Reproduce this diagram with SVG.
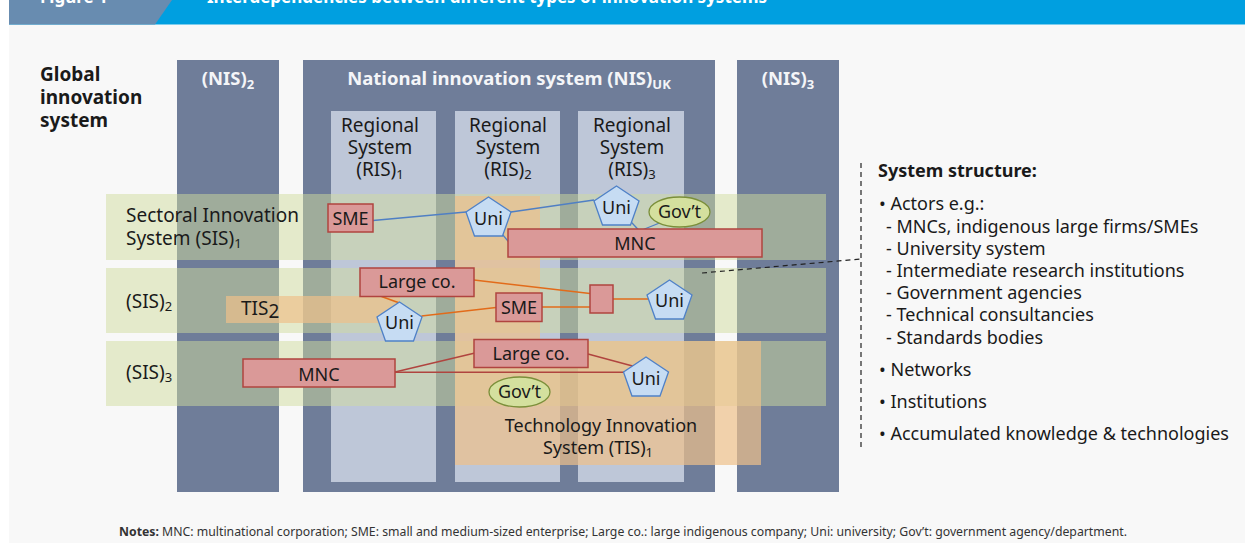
<svg xmlns="http://www.w3.org/2000/svg" width="1245" height="543" viewBox="0 0 1245 543">
  <style>
    text { font-family: "Noto Sans", "Open Sans", "Liberation Sans", sans-serif; }
    .hdr { fill: #ffffff; font-weight: bold; font-size: 17px; }
    .colhead { fill: #f4f5f8; font-weight: bold; font-size: 18.5px; text-anchor: middle; }
    .lbl { fill: #1a1a1a; font-size: 18px; }
    .big { font-size: 19px; }
    .mid { text-anchor: middle; }
    .bold { font-weight: bold; }
    .nis { fill: #6f7d99; }
    .ris { fill: #bec7d8; }
    .sis { fill: rgb(207,219,158); fill-opacity: 0.5; }
    .tis { fill: rgb(238,192,138); fill-opacity: 0.7; }
    .box { fill: #da9998; stroke: #b0443f; stroke-width: 1.5; }
    .uni { fill: #c6dcf3; stroke: #4f81c7; stroke-width: 1.3; }
    .gov { fill: #d4e09e; stroke: #7b8f3a; stroke-width: 1.3; }
    .lb { stroke: #4f7fc4; stroke-width: 1.3; fill: none; }
    .lo { stroke: #e26b1a; stroke-width: 1.5; fill: none; }
    .lr { stroke: #b0443f; stroke-width: 1.5; fill: none; }
    .dash { stroke: #222; stroke-width: 1.2; fill: none; stroke-dasharray: 5 4; }
  </style>

  <!-- page background and title banner -->
  <rect x="0" y="0" width="1245" height="543" fill="#ffffff"/>
  <rect x="9" y="24.5" width="1236" height="518.5" fill="#f8f8f8"/>
  <rect x="9" y="0" width="1236" height="24.5" fill="#009fe0"/>
  <polygon points="9,0 172,0 155,24.5 9,24.5" fill="#688cb0"/>
  <text class="hdr" x="40" y="3">Figure 1</text>
  <text class="hdr" x="207" y="3">Interdependencies between different types of innovation systems</text>

  <!-- global label -->
  <g id="global-label">
    <text class="lbl bold big" x="40" y="81">Global</text>
    <text class="lbl bold big" x="40" y="104">innovation</text>
    <text class="lbl bold big" x="40" y="127">system</text>
  </g>

  <!-- national systems -->
  <g id="nis2">
    <rect class="nis" x="177" y="60" width="102" height="432"/>
    <text class="colhead" x="228" y="85">(NIS)<tspan font-size="13" dy="4">2</tspan></text>
  </g>
  <g id="nis-uk">
    <rect class="nis" x="303" y="60" width="412" height="432"/>
    <text class="colhead" x="509" y="85">National innovation system (NIS)<tspan font-size="13" dy="4">UK</tspan></text>
  </g>
  <g id="nis3">
    <rect class="nis" x="737" y="60" width="102" height="432"/>
    <text class="colhead" x="788" y="85">(NIS)<tspan font-size="13" dy="4">3</tspan></text>
  </g>

  <!-- regional systems -->
  <g id="ris1">
    <rect class="ris" x="331" y="111" width="105" height="371"/>
    <text class="lbl big mid" x="380" y="132">Regional</text>
    <text class="lbl big mid" x="380" y="154">System</text>
    <text class="lbl big mid" x="380" y="176">(RIS)<tspan font-size="13" dy="3">1</tspan></text>
  </g>
  <g id="ris2">
    <rect class="ris" x="455" y="111" width="105" height="371"/>
    <text class="lbl big mid" x="508" y="132">Regional</text>
    <text class="lbl big mid" x="508" y="154">System</text>
    <text class="lbl big mid" x="508" y="176">(RIS)<tspan font-size="13" dy="3">2</tspan></text>
  </g>
  <g id="ris3">
    <rect class="ris" x="578" y="111" width="106" height="371"/>
    <text class="lbl big mid" x="632" y="132">Regional</text>
    <text class="lbl big mid" x="632" y="154">System</text>
    <text class="lbl big mid" x="632" y="176">(RIS)<tspan font-size="13" dy="3">3</tspan></text>
  </g>

  <!-- sectoral systems (translucent bands) -->
  <g id="sis1">
    <rect class="sis" x="106" y="194" width="720" height="66"/>
  </g>
  <g id="sis2">
    <rect class="sis" x="106" y="268" width="720" height="65"/>
  </g>
  <g id="sis3">
    <rect class="sis" x="106" y="341" width="720" height="65"/>
  </g>

  <!-- technology systems -->
  <g id="tis1">
    <path class="tis" d="M455,196 H540 V341 H761 V465 H455 Z"/>
  </g>
  <g id="tis2">
    <rect class="tis" x="226" y="296" width="174" height="27"/>
    <text class="lbl big" x="241" y="315">TIS<tspan dy="3">2</tspan></text>
  </g>

  <!-- links between actors -->
  <g id="connectors">
    <line class="lb" x1="373" y1="220.5" x2="466" y2="212"/>
    <line class="lb" x1="511" y1="212" x2="594" y2="200"/>
    <line class="lb" x1="492" y1="222" x2="512" y2="246"/>
    <line class="lb" x1="620" y1="210" x2="639.5" y2="231"/>
    <line class="lb" x1="672" y1="218" x2="639.5" y2="231"/>

    <line class="lo" x1="474" y1="280" x2="590" y2="293.5"/>
    <line class="lo" x1="542" y1="307" x2="590" y2="307"/>
    <line class="lo" x1="613" y1="299" x2="648" y2="299"/>
    <line class="lo" x1="421.5" y1="316" x2="496" y2="307.5"/>
    <line class="lo" x1="381.5" y1="296.5" x2="399.5" y2="303"/>

    <line class="lr" x1="395" y1="372" x2="475" y2="353"/>
    <line class="lr" x1="395" y1="372.3" x2="624" y2="372.3"/>
    <line class="lr" x1="588" y1="354" x2="640" y2="368"/>

    <line class="dash" x1="702" y1="273" x2="861" y2="259"/>
  </g>

  <!-- actors in SIS 1 -->
  <g id="sme-1">
    <rect class="box" x="328" y="204" width="45" height="28"/>
    <text class="lbl mid" x="350.5" y="224.5">SME</text>
  </g>
  <g id="mnc-1">
    <rect class="box" x="508" y="229" width="254" height="28"/>
    <text class="lbl mid" x="635" y="249.5">MNC</text>
  </g>
  <g id="uni-1">
    <polygon class="uni" transform="translate(488.5,197)" points="0,0 22.5,15 14,39 -14,39 -22.5,15"/>
    <text class="lbl mid" x="488.5" y="225">Uni</text>
  </g>
  <g id="uni-2">
    <polygon class="uni" transform="translate(616.5,186)" points="0,0 22.5,15 14,39 -14,39 -22.5,15"/>
    <text class="lbl mid" x="616.5" y="213.5">Uni</text>
  </g>
  <g id="gov-1">
    <ellipse class="gov" cx="679.5" cy="212" rx="30.5" ry="15"/>
    <text class="lbl mid" x="679.5" y="218">Gov’t</text>
  </g>

  <!-- actors in SIS 2 -->
  <g id="large-1">
    <rect class="box" x="360" y="268" width="114" height="28.5"/>
    <text class="lbl mid" x="417" y="288">Large co.</text>
  </g>
  <g id="sme-2">
    <rect class="box" x="496" y="293" width="46" height="28.5"/>
    <text class="lbl mid" x="519" y="313.5">SME</text>
  </g>
  <g id="firm-2">
    <rect class="box" x="590" y="285" width="23" height="28"/>
  </g>
  <g id="uni-3">
    <polygon class="uni" transform="translate(399.5,302)" points="0,0 22.5,15 14,39 -14,39 -22.5,15"/>
    <text class="lbl mid" x="399.5" y="329">Uni</text>
  </g>
  <g id="uni-4">
    <polygon class="uni" transform="translate(669.5,280)" points="0,0 22.5,15 14,39 -14,39 -22.5,15"/>
    <text class="lbl mid" x="669.5" y="307">Uni</text>
  </g>

  <!-- actors in SIS 3 -->
  <g id="mnc-3">
    <rect class="box" x="243" y="359" width="152" height="28"/>
    <text class="lbl mid" x="319" y="380.5">MNC</text>
  </g>
  <g id="large-3">
    <rect class="box" x="474" y="339.5" width="114" height="28"/>
    <text class="lbl mid" x="531" y="360">Large co.</text>
  </g>
  <g id="gov-3">
    <ellipse class="gov" cx="519.5" cy="392" rx="30.5" ry="15"/>
    <text class="lbl mid" x="519.5" y="398">Gov’t</text>
  </g>
  <g id="uni-5">
    <polygon class="uni" transform="translate(646,357)" points="0,0 22.5,15 14,39 -14,39 -22.5,15"/>
    <text class="lbl mid" x="646" y="384.5">Uni</text>
  </g>

  <!-- band labels -->
  <g id="sis-labels">
    <text class="lbl big" x="126" y="222">Sectoral Innovation</text>
    <text class="lbl big" x="126" y="245">System (SIS)<tspan font-size="13" dy="3">1</tspan></text>
    <text class="lbl big" x="126" y="308">(SIS)<tspan font-size="13" dy="3">2</tspan></text>
    <text class="lbl big" x="126" y="379">(SIS)<tspan font-size="13" dy="3">3</tspan></text>
  </g>
  <g id="tis1-label">
    <text class="lbl mid" x="601" y="432">Technology Innovation</text>
    <text class="lbl mid" x="598" y="454">System (TIS)<tspan font-size="13" dy="3">1</tspan></text>
  </g>

  <!-- system structure legend -->
  <g id="structure">
    <line class="dash" x1="861" y1="163" x2="861" y2="447"/>
    <text class="lbl bold" x="878" y="177">System structure:</text>
    <text class="lbl" x="879" y="210">• Actors e.g.:</text>
    <text class="lbl" x="886" y="232.5">- MNCs, indigenous large firms/SMEs</text>
    <text class="lbl" x="886" y="254.5">- University system</text>
    <text class="lbl" x="886" y="276.5">- Intermediate research institutions</text>
    <text class="lbl" x="886" y="299">- Government agencies</text>
    <text class="lbl" x="886" y="321">- Technical consultancies</text>
    <text class="lbl" x="886" y="343.5">- Standards bodies</text>
    <text class="lbl" x="879" y="376">• Networks</text>
    <text class="lbl" x="879" y="408">• Institutions</text>
    <text class="lbl" x="879" y="440">• Accumulated knowledge &amp; technologies</text>
  </g>

  <!-- notes -->
  <text x="119" y="536" font-size="12" fill="#333" textLength="1008" lengthAdjust="spacingAndGlyphs"><tspan font-weight="bold">Notes:</tspan> MNC: multinational corporation; SME: small and medium-sized enterprise; Large co.: large indigenous company; Uni: university; Gov’t: government agency/department.</text>
</svg>
